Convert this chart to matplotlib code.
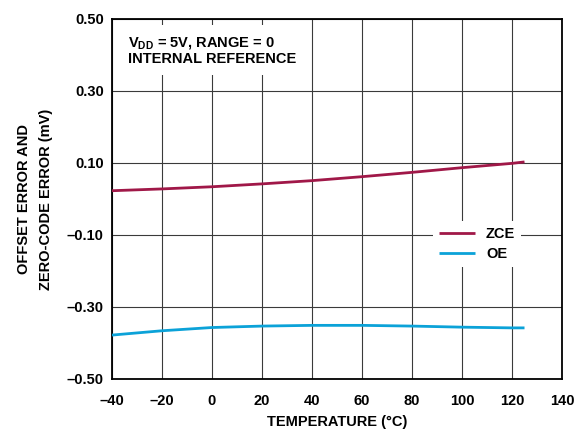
import matplotlib.pyplot as plt

plt.rcParams['font.family'] = ['Liberation Sans', 'DejaVu Sans']
plt.rcParams['font.weight'] = 'bold'
plt.rcParams['mathtext.fontset'] = 'custom'
plt.rcParams['mathtext.rm'] = 'Liberation Sans:bold'
plt.rcParams['mathtext.bf'] = 'Liberation Sans:bold'

# temperature sweep (degC) and measured errors (mV)
temperature = [-40, -20, 0, 20, 40, 60, 80, 100, 120, 125]
zce = [0.023, 0.028, 0.034, 0.042, 0.051, 0.062, 0.074, 0.087, 0.099, 0.103]
oe = [-0.378, -0.366, -0.357, -0.353, -0.351, -0.351, -0.353, -0.356, -0.358, -0.358]

xticks = [-40, -20, 0, 20, 40, 60, 80, 100, 120, 140]
xticklabels = ['\u201340', '\u201320', '0', '20', '40', '60', '80', '100', '120', '140']
yticks = [-0.5, -0.3, -0.1, 0.1, 0.3, 0.5]
yticklabels = ['\u20130.50', '\u20130.30', '\u20130.10', '0.10', '0.30', '0.50']

FS = 10.5

fig = plt.figure(figsize=(5.82, 4.32), dpi=100)
ax = fig.add_axes([112 / 582, 1 - 379 / 432, 450 / 582, 360 / 432])

ax.plot(temperature, zce, color='#a01848', lw=2.0, label='ZCE', solid_capstyle='butt', zorder=3)
ax.plot(temperature, oe, color='#0ba2d8', lw=2.0, label='OE', solid_capstyle='butt', zorder=3)

ax.set_xlim(-40, 140)
ax.set_ylim(-0.5, 0.5)
ax.set_xticks(xticks)
ax.set_xticklabels(xticklabels)
ax.set_yticks(yticks)
ax.set_yticklabels(yticklabels)
ax.tick_params(length=0, labelsize=FS)
ax.tick_params(axis='x', pad=11)
ax.tick_params(axis='y', pad=6)
ax.grid(True, color='#3a3a3a', lw=0.8)
ax.set_axisbelow(True)
for s in ax.spines.values():
    s.set_linewidth(1.3)

ax.set_xlabel('TEMPERATURE (\u00b0C)', fontsize=FS, fontweight='bold', labelpad=5)
ax.set_ylabel('OFFSET ERROR AND\nZERO-CODE ERROR (mV)', fontsize=FS,
              fontweight='bold', labelpad=10, linespacing=1.75)

ax.text(0.035, 0.955, '$\\mathbf{V_{DD}}$ = 5V, RANGE = 0\nINTERNAL REFERENCE',
        transform=ax.transAxes, fontsize=FS, fontweight='bold', va='top',
        linespacing=1.1,
        bbox=dict(facecolor='white', edgecolor='none', pad=6))

leg = ax.legend(loc='center left', bbox_to_anchor=(0.713, 0.375), frameon=True,
                fontsize=FS, handlelength=2.5, handletextpad=0.75,
                labelspacing=0.45, borderpad=0.4, borderaxespad=0)
leg.get_frame().set_edgecolor('none')
leg.get_frame().set_facecolor('white')
leg.get_frame().set_alpha(1)
leg.get_frame().set_boxstyle('square', pad=0)
for t in leg.get_texts():
    t.set_fontweight('bold')

fig.savefig('out.png', dpi=100)
